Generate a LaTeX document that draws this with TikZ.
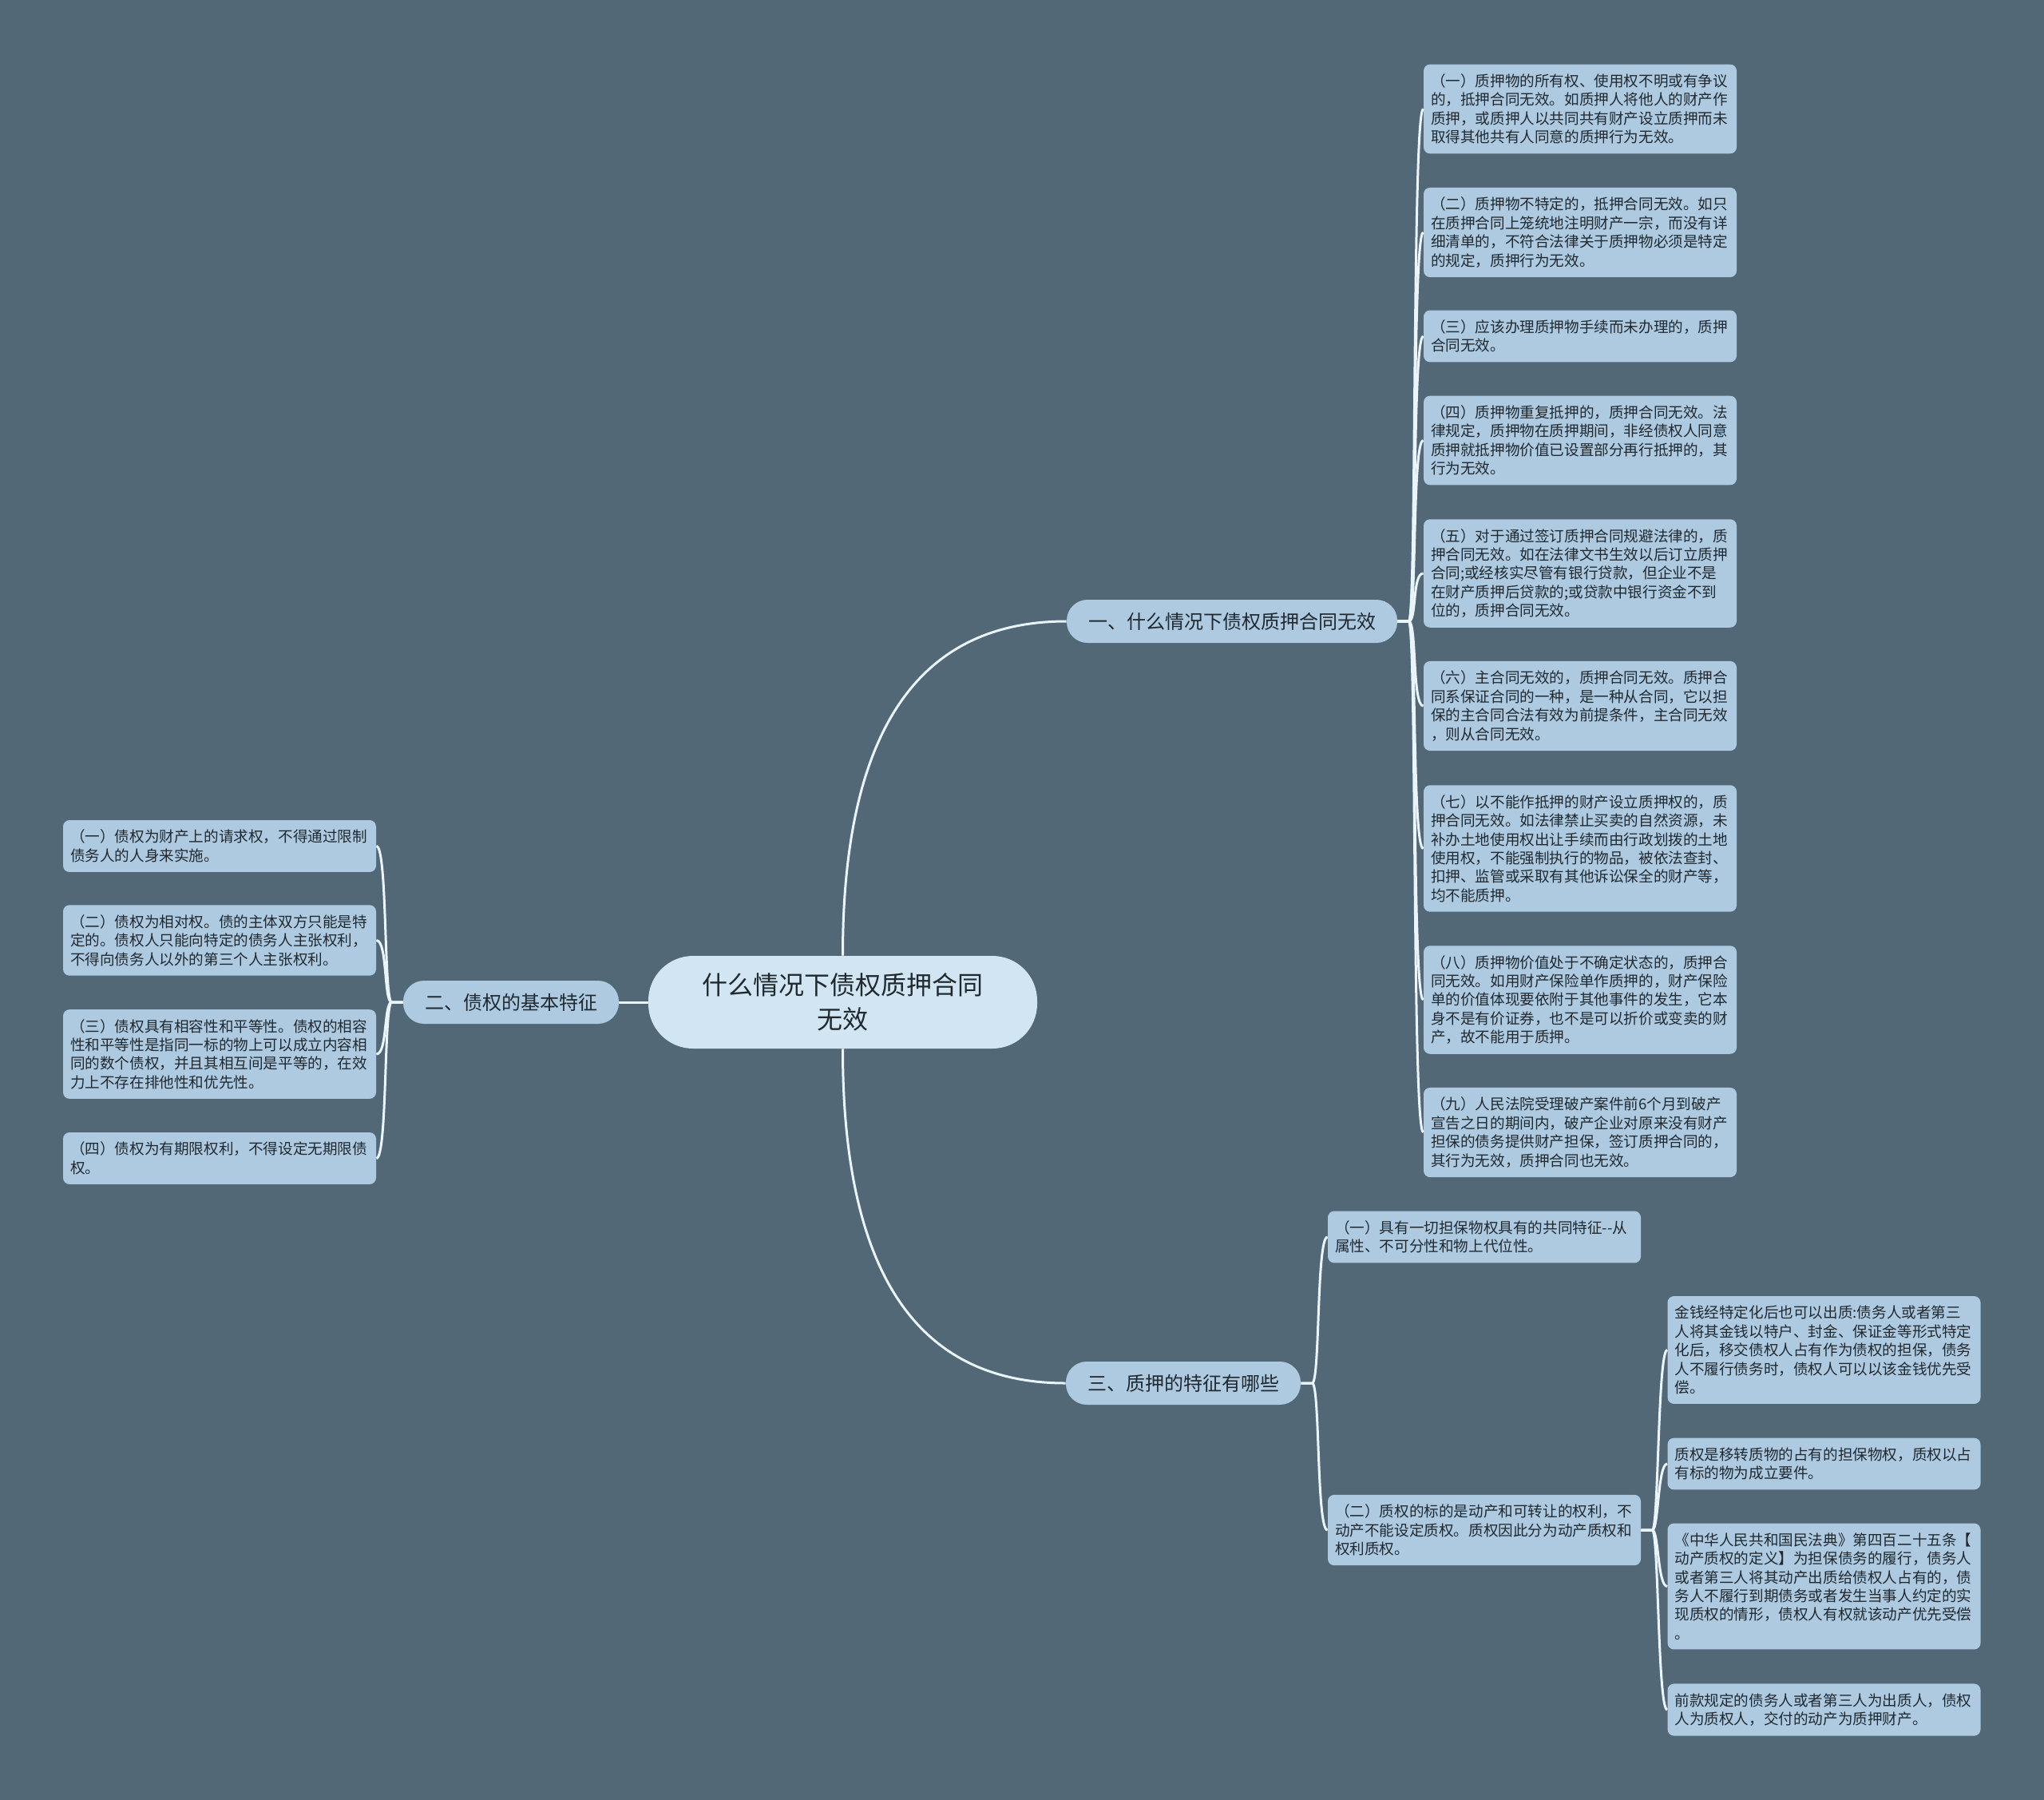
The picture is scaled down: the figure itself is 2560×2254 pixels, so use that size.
\documentclass[tikz,border=0pt]{standalone}
\usepackage{fontspec}
\newfontfamily\cjk{Noto Sans CJK SC}
\definecolor{bgcol}{HTML}{536877}
\definecolor{leafcol}{HTML}{ADCAE1}
\definecolor{rootcol}{HTML}{D1E6F2}
\definecolor{linecol}{HTML}{E9F5FA}
\definecolor{txtcol}{HTML}{20292F}

\begin{document}
\begin{tikzpicture}[x=0.5pt, y=-0.5pt]%
        \tikzstyle{root}=[fill=rootcol, rounded corners=28pt, minimum width=243.5pt, minimum height=58pt, align=center, text=txtcol, font=\cjk\fontsize{16pt}{21.5pt}\selectfont];%
        \tikzstyle{topic}=[fill=leafcol, rounded corners=13pt, minimum height=27pt, inner xsep=13.5pt, text=txtcol, font=\cjk\fontsize{12pt}{14pt}\selectfont];%
        \tikzstyle{leaf}=[fill=leafcol, rounded corners=4pt, text width=187pt, align=left, inner xsep=4.5pt, inner ysep=6pt, text=txtcol, font=\cjk\fontsize{9.3pt}{11.7pt}\selectfont];%
        \tikzstyle{link}=[draw=linecol, line width=1.5pt];%
        \fill[bgcol] (0,0) rectangle (2560,2254);

        \node (root) at (1055.5, 1255) [root] {什么情况下债权质押合同\\无效};

        \node (b1) at (1543, 778) [topic] {一、什么情况下债权质押合同无效};
        \node (b2) at (640, 1255) [topic] {二、债权的基本特征};
        \node (b3) at (1482, 1732) [topic] {三、质押的特征有哪些};

        \node (r1) at (1979, 136.5) [leaf] {（一）质押物的所有权、使用权不明或有争议\\的，抵押合同无效。如质押人将他人的财产作\\质押，或质押人以共同共有财产设立质押而未\\取得其他共有人同意的质押行为无效。};
        \node (r2) at (1979, 291) [leaf] {（二）质押物不特定的，抵押合同无效。如只\\在质押合同上笼统地注明财产一宗，而没有详\\细清单的，不符合法律关于质押物必须是特定\\的规定，质押行为无效。};
        \node (r3) at (1979, 421) [leaf] {（三）应该办理质押物手续而未办理的，质押\\合同无效。};
        \node (r4) at (1979, 551.5) [leaf] {（四）质押物重复抵押的，质押合同无效。法\\律规定，质押物在质押期间，非经债权人同意\\质押就抵押物价值已设置部分再行抵押的，其\\行为无效。};
        \node (r5) at (1979, 718) [leaf] {（五）对于通过签订质押合同规避法律的，质\\押合同无效。如在法律文书生效以后订立质押\\合同;或经核实尽管有银行贷款，但企业不是\\在财产质押后贷款的;或贷款中银行资金不到\\位的，质押合同无效。};
        \node (r6) at (1979, 884) [leaf] {（六）主合同无效的，质押合同无效。质押合\\同系保证合同的一种，是一种从合同，它以担\\保的主合同合法有效为前提条件，主合同无效\\，则从合同无效。};
        \node (r7) at (1979, 1062.5) [leaf] {（七）以不能作抵押的财产设立质押权的，质\\押合同无效。如法律禁止买卖的自然资源，未\\补办土地使用权出让手续而由行政划拨的土地\\使用权，不能强制执行的物品，被依法查封、\\扣押、监管或采取有其他诉讼保全的财产等，\\均不能质押。};
        \node (r8) at (1979, 1252) [leaf] {（八）质押物价值处于不确定状态的，质押合\\同无效。如用财产保险单作质押的，财产保险\\单的价值体现要依附于其他事件的发生，它本\\身不是有价证券，也不是可以折价或变卖的财\\产，故不能用于质押。};
        \node (r9) at (1979, 1418) [leaf] {（九）人民法院受理破产案件前6个月到破产\\宣告之日的期间内，破产企业对原来没有财产\\担保的债务提供财产担保，签订质押合同的，\\其行为无效，质押合同也无效。};

        \node (l1) at (275, 1059.5) [leaf] {（一）债权为财产上的请求权，不得通过限制\\债务人的人身来实施。};
        \node (l2) at (275, 1177.5) [leaf] {（二）债权为相对权。债的主体双方只能是特\\定的。债权人只能向特定的债务人主张权利，\\不得向债务人以外的第三个人主张权利。};
        \node (l3) at (275, 1320) [leaf] {（三）债权具有相容性和平等性。债权的相容\\性和平等性是指同一标的物上可以成立内容相\\同的数个债权，并且其相互间是平等的，在效\\力上不存在排他性和优先性。};
        \node (l4) at (275, 1450.5) [leaf] {（四）债权为有期限权利，不得设定无期限债\\权。};

        \node (c1) at (1859, 1549) [leaf] {（一）具有一切担保物权具有的共同特征-{}-从\\属性、不可分性和物上代位性。};
        \node (c2) at (1859, 1916) [leaf] {（二）质权的标的是动产和可转让的权利，不\\动产不能设定质权。质权因此分为动产质权和\\权利质权。};

        \node (g1) at (2284.5, 1690.5) [leaf] {金钱经特定化后也可以出质:债务人或者第三\\人将其金钱以特户、封金、保证金等形式特定\\化后，移交债权人占有作为债权的担保，债务\\人不履行债务时，债权人可以以该金钱优先受\\偿。};
        \node (g2) at (2284.5, 1833) [leaf] {质权是移转质物的占有的担保物权，质权以占\\有标的物为成立要件。};
        \node (g3) at (2284.5, 1986.5) [leaf] {《中华人民共和国民法典》第四百二十五条【\\动产质权的定义】为担保债务的履行，债务人\\或者第三人将其动产出质给债权人占有的，债\\务人不履行到期债务或者发生当事人约定的实\\现质权的情形，债权人有权就该动产优先受偿\\。};
        \node (g4) at (2284.5, 2141) [leaf] {前款规定的债务人或者第三人为出质人，债权\\人为质权人，交付的动产为质押财产。};

        % main branches
        \draw[link] (root.north) .. controls +(0,-279) and +(-187,0) .. (b1.west);
        \draw[link] (root.west) -- (b2.east);
        \draw[link] (root.south) .. controls +(0,279) and +(-187,0) .. (b3.west);

        % first branch
        \draw[link] (b1.east) -- ++(14,0) .. controls +(10,0) and +(-14,0) .. (r1.west);
        \draw[link] (b1.east) -- ++(14,0) .. controls +(10,0) and +(-14,0) .. (r2.west);
        \draw[link] (b1.east) -- ++(14,0) .. controls +(10,0) and +(-14,0) .. (r3.west);
        \draw[link] (b1.east) -- ++(14,0) .. controls +(10,0) and +(-14,0) .. (r4.west);
        \draw[link] (b1.east) -- ++(14,0) .. controls +(10,0) and +(-14,0) .. (r5.west);
        \draw[link] (b1.east) -- ++(14,0) .. controls +(10,0) and +(-14,0) .. (r6.west);
        \draw[link] (b1.east) -- ++(14,0) .. controls +(10,0) and +(-14,0) .. (r7.west);
        \draw[link] (b1.east) -- ++(14,0) .. controls +(10,0) and +(-14,0) .. (r8.west);
        \draw[link] (b1.east) -- ++(14,0) .. controls +(10,0) and +(-14,0) .. (r9.west);

        % second branch
        \draw[link] (b2.west) -- ++(-14,0) .. controls +(-10,0) and +(14,0) .. (l1.east);
        \draw[link] (b2.west) -- ++(-14,0) .. controls +(-10,0) and +(14,0) .. (l2.east);
        \draw[link] (b2.west) -- ++(-14,0) .. controls +(-10,0) and +(14,0) .. (l3.east);
        \draw[link] (b2.west) -- ++(-14,0) .. controls +(-10,0) and +(14,0) .. (l4.east);

        % third branch
        \draw[link] (b3.east) -- ++(14,0) .. controls +(10,0) and +(-14,0) .. (c1.west);
        \draw[link] (b3.east) -- ++(14,0) .. controls +(10,0) and +(-14,0) .. (c2.west);

        \draw[link] (c2.east) -- ++(14,0) .. controls +(8,0) and +(-12,0) .. (g1.west);
        \draw[link] (c2.east) -- ++(14,0) .. controls +(8,0) and +(-12,0) .. (g2.west);
        \draw[link] (c2.east) -- ++(14,0) .. controls +(8,0) and +(-12,0) .. (g3.west);
        \draw[link] (c2.east) -- ++(14,0) .. controls +(8,0) and +(-12,0) .. (g4.west);
\end{tikzpicture}
\end{document}
